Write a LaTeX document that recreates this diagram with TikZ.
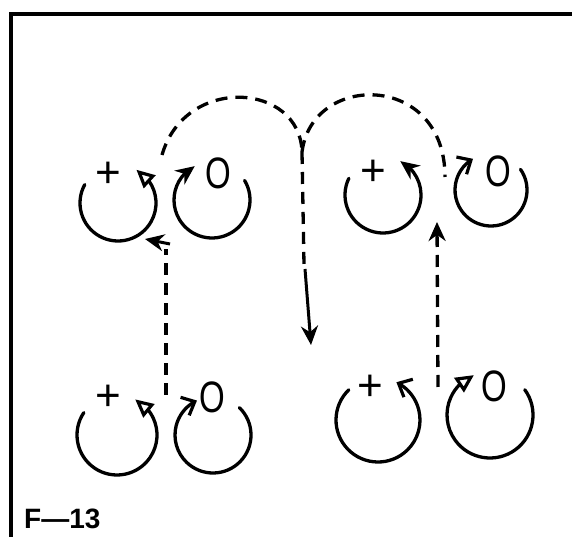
\documentclass[tikz,border=0pt]{standalone}
\usepackage{fontspec}
\setmainfont{Liberation Sans}
\usetikzlibrary{arrows.meta,bending}
\begin{document}
\begin{tikzpicture}[x=1pt,y=1pt,
  loop/.style={line width=3.3pt, line cap=round},
  dsh/.style={line width=3.3pt, dash pattern=on 12pt off 8pt},
  sym/.style={font=\fontsize{44}{44}\selectfont, inner sep=0pt},
  filltip/.style={-{Stealth[length=19pt,width=17pt]}},
  opentip/.style={-{Triangle[open,length=18pt,width=17pt,line width=3.2pt]}},
  barbtip/.style={-{Straight Barb[length=11pt,width=20pt,line width=3.2pt]}}]
\useasboundingbox (0,0) rectangle (572,537);
\fill[white] (0,0) rectangle (572,537);
% frame
\draw[line width=3.5pt] (11,0) -- (11,523) -- (572,523);
\node[anchor=base west, inner sep=0pt, font=\fontsize{28}{28}\selectfont\bfseries] (lab) at (24,8) {F---13};

% top-left pair
\node[sym] (tlp) at (108,362) {+};
\node[sym] (tlo) at (218,364) {\scalebox{0.75}[1]{O}};
\draw[loop,opentip] (118,334) ++(151:38) arc[start angle=151,end angle=421,radius=38];
\draw[loop,filltip] (212,337) ++(31:38) arc[start angle=31,end angle=-243,radius=38];

% top-right pair
\node[sym] (trp) at (373,364) {+};
\node[sym] (tro) at (498,366) {\scalebox{0.75}[1]{O}};
\draw[loop,filltip] (383,342) ++(154:38) arc[start angle=154,end angle=423,radius=38];
\draw[loop,barbtip] (491,347) ++(35:36) arc[start angle=35,end angle=-240,radius=36];

% bottom-left pair
\node[sym] (blp) at (108,139) {+};
\node[sym] (blo) at (212,140) {\scalebox{0.75}[1]{O}};
\draw[loop,opentip] (117,102) ++(146:40) arc[start angle=146,end angle=423,radius=40];
\draw[loop,barbtip] (213,102) ++(46:38) arc[start angle=46,end angle=-245,radius=38];

% bottom-right pair
\node[sym] (brp) at (370,149) {+};
\node[sym] (bro) at (494,151) {\scalebox{0.75}[1]{O}};
\draw[loop,barbtip] (378,117) ++(134:42) arc[start angle=134,end angle=424,radius=42];
\draw[loop,opentip] (490,122) ++(36:43) arc[start angle=36,end angle=-248,radius=43];

% connectors
\coordinate (a0) at (166,142);
\coordinate (a1) at (166,288);
\coordinate (a2) at (145,298);
\draw[dsh] (a0) -- (a1);
\draw[line width=3pt,filltip] (170,293) -- (a2);

\coordinate (b0) at (438,150);
\coordinate (b1) at (437,315);
\draw[dsh,filltip] (b0) -- (b1);

\coordinate (c0) at (162,382);
\coordinate (v) at (302,385);
\coordinate (c2) at (445,360);
\draw[dsh] (c0) .. controls (185,462) and (300,455) .. (v);
\draw[dsh] (v) .. controls (312,465) and (445,465) .. (c2);
\coordinate (m1) at (304,272);
\coordinate (m2) at (311,192);
\draw[dsh] (v) -- (m1);
\draw[line width=3pt,filltip] (305,268) -- (m2);
\end{tikzpicture}
\end{document}
